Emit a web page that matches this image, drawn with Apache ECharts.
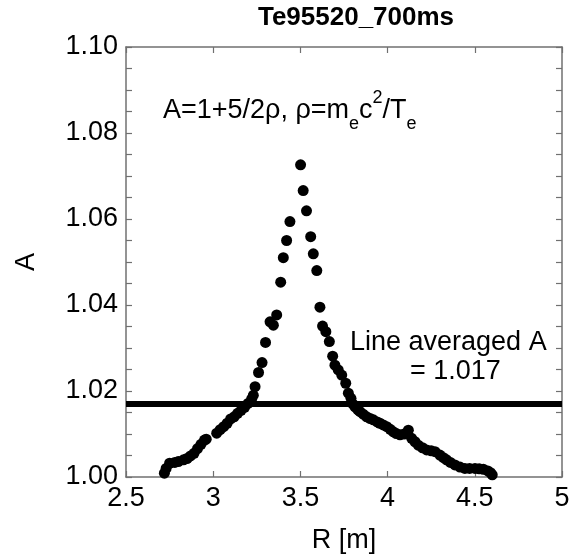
<!DOCTYPE html>
<html>
<head>
<meta charset="utf-8">
<script src="https://cdn.jsdelivr.net/npm/echarts@6/dist/echarts.min.js"></script>
<style>html,body{margin:0;padding:0;background:#fff;}#c{width:576px;height:559px;}</style>
</head>
<body>
<div id="c"></div>
<script>
// R [m] positions of the measured points
var rValues = [
  2.72, 2.73, 2.75, 2.78, 2.80, 2.83, 2.85, 2.87, 2.89, 2.91, 2.93, 2.95, 2.96,
  3.02, 3.04, 3.06, 3.08, 3.10, 3.12, 3.14, 3.16, 3.18, 3.20, 3.22, 3.23, 3.24,
  3.26, 3.28, 3.30, 3.326, 3.345, 3.364, 3.387, 3.402, 3.421, 3.440, 3.501,
  3.516, 3.535, 3.559, 3.574, 3.594, 3.612, 3.627, 3.646, 3.666, 3.685, 3.698,
  3.717, 3.737, 3.760, 3.775, 3.790, 3.80, 3.813, 3.83, 3.842, 3.86, 3.880, 3.90,
  3.918, 3.94, 3.956, 3.975, 3.995, 4.015, 4.033, 4.05, 4.071, 4.095, 4.119, 4.138,
  4.157, 4.176, 4.20, 4.224, 4.25, 4.272, 4.300, 4.32, 4.338, 4.36, 4.386, 4.415,
  4.443, 4.47, 4.501, 4.525, 4.549, 4.575, 4.590, 4.60
];
// A values of the measured points
var aValues = [
  1.0009, 1.0020, 1.0032, 1.0034, 1.0036, 1.0040, 1.0043, 1.0049, 1.0055, 1.0066, 1.0076, 1.0086, 1.0088,
  1.0102, 1.0110, 1.0117, 1.0125, 1.0135, 1.0140, 1.0148, 1.0155, 1.0162, 1.0171, 1.0181, 1.0190, 1.0210,
  1.0243, 1.0266, 1.0313, 1.0361, 1.0353, 1.0377, 1.0453, 1.0510, 1.0550, 1.0594, 1.0726,
  1.0666, 1.0619, 1.0559, 1.0519, 1.0480, 1.0395, 1.0351, 1.0338, 1.0315, 1.0281, 1.0260,
  1.0249, 1.0237, 1.0218, 1.0195, 1.0183, 1.0170, 1.0163, 1.0156, 1.0152, 1.0146, 1.0140, 1.0136,
  1.0133, 1.0128, 1.0125, 1.0121, 1.0117, 1.0111, 1.0105, 1.0101, 1.0098, 1.0100, 1.0109, 1.0090,
  1.0082, 1.0074, 1.0068, 1.0063, 1.0061, 1.0059, 1.0051, 1.0045, 1.0040, 1.0034, 1.0028, 1.0023,
  1.0020, 1.0020, 1.0020, 1.0019, 1.0018, 1.0014, 1.0010, 1.0005
];
var lineAveragedA = 1.017;
var xTicks = { min: 2.5, max: 5, interval: 0.5 };
var yTicks = { min: 1.00, max: 1.10, interval: 0.02 };
var titleText = 'Te95520_700ms';
var xName = 'R [m]';
var yName = 'A';

var points = rValues.map(function (r, i) { return [r, aValues[i]]; });
var FONT = '"Liberation Sans", Arial, Helvetica, sans-serif';
var AX = '#707070';

function axisCommon(extra) {
  var base = {
    type: 'value',
    axisLine: { show: true, lineStyle: { color: AX, width: 1.5 } },
    axisTick: { show: true, inside: true, length: 6, lineStyle: { color: AX, width: 1.2 } },
    splitLine: { show: false },
    axisLabel: { show: false }
  };
  for (var k in extra) base[k] = extra[k];
  return base;
}

var chart = echarts.init(document.getElementById('c'), null, { renderer: 'canvas' });
chart.setOption({
  animation: false,
  backgroundColor: '#fff',
  grid: { left: 126, right: 14, top: 47, bottom: 82, containLabel: false, outerBoundsMode: 'none' },
  xAxis: [
    axisCommon({
      position: 'bottom', min: xTicks.min, max: xTicks.max, interval: xTicks.interval,
      name: xName, nameLocation: 'middle', nameGap: 50,
      nameTextStyle: { fontFamily: FONT, fontSize: 27, color: '#000' },
      axisLabel: { show: true, margin: 8, fontFamily: FONT, fontSize: 27, color: '#000' }
    }),
    axisCommon({ position: 'top', min: xTicks.min, max: xTicks.max, interval: xTicks.interval })
  ],
  yAxis: [
    axisCommon({
      position: 'left', min: yTicks.min, max: yTicks.max, interval: yTicks.interval,
      name: yName, nameLocation: 'middle', nameGap: 86,
      nameTextStyle: { fontFamily: FONT, fontSize: 27, color: '#000' },
      minorTick: { show: true, splitNumber: 4, length: 6, lineStyle: { color: AX, width: 1.2 } },
      axisLabel: { show: true, margin: 8, fontFamily: FONT, fontSize: 27, color: '#000',
        formatter: function (v) { return v.toFixed(2); } }
    }),
    axisCommon({
      position: 'right', min: yTicks.min, max: yTicks.max, interval: yTicks.interval,
      minorTick: { show: true, splitNumber: 4, length: 6, lineStyle: { color: AX, width: 1.2 } }
    })
  ],
  series: [{
    type: 'scatter',
    xAxisIndex: 0, yAxisIndex: 0,
    data: points,
    symbol: 'circle',
    symbolSize: 11,
    itemStyle: { color: '#000', opacity: 1 },
    markLine: {
      silent: true,
      precision: 4,
      symbol: ['none', 'none'],
      label: { show: false },
      lineStyle: { color: '#000', width: 6, type: 'solid', opacity: 1 },
      data: [{ yAxis: lineAveragedA }]
    }
  }],
  graphic: [
    {
      type: 'text', x: 356, y: 18,
      style: { text: titleText, font: 'bold 26px ' + FONT, fill: '#000',
        align: 'center', verticalAlign: 'middle', textAlign: 'center', textVerticalAlign: 'middle' }
    },
    {
      type: 'text', x: 163, y: 89,
      style: {
        text: '{m|A=1+5/2ρ, ρ=m}{s|e}{m|c}{p|2}{m|/T}{s|e}',
        fill: '#000', align: 'left', verticalAlign: 'top', textAlign: 'left', textVerticalAlign: 'top',
        rich: {
          m: { fontFamily: FONT, fontSize: 27, lineHeight: 44, fill: '#000', color: '#000' },
          s: { fontFamily: FONT, fontSize: 18, lineHeight: 10, verticalAlign: 'bottom', fill: '#000', color: '#000' },
          p: { fontFamily: FONT, fontSize: 18, lineHeight: 22, verticalAlign: 'top', fill: '#000', color: '#000' }
        }
      }
    },
    {
      type: 'text', x: 350, y: 343,
      style: { text: 'Line averaged A', font: '27px ' + FONT, fill: '#000',
        align: 'left', verticalAlign: 'middle', textAlign: 'left', textVerticalAlign: 'middle' }
    },
    {
      type: 'text', x: 410, y: 372,
      style: { text: '= ' + lineAveragedA.toFixed(3), font: '27px ' + FONT, fill: '#000',
        align: 'left', verticalAlign: 'middle', textAlign: 'left', textVerticalAlign: 'middle' }
    }
  ]
});
</script>
</body>
</html>
